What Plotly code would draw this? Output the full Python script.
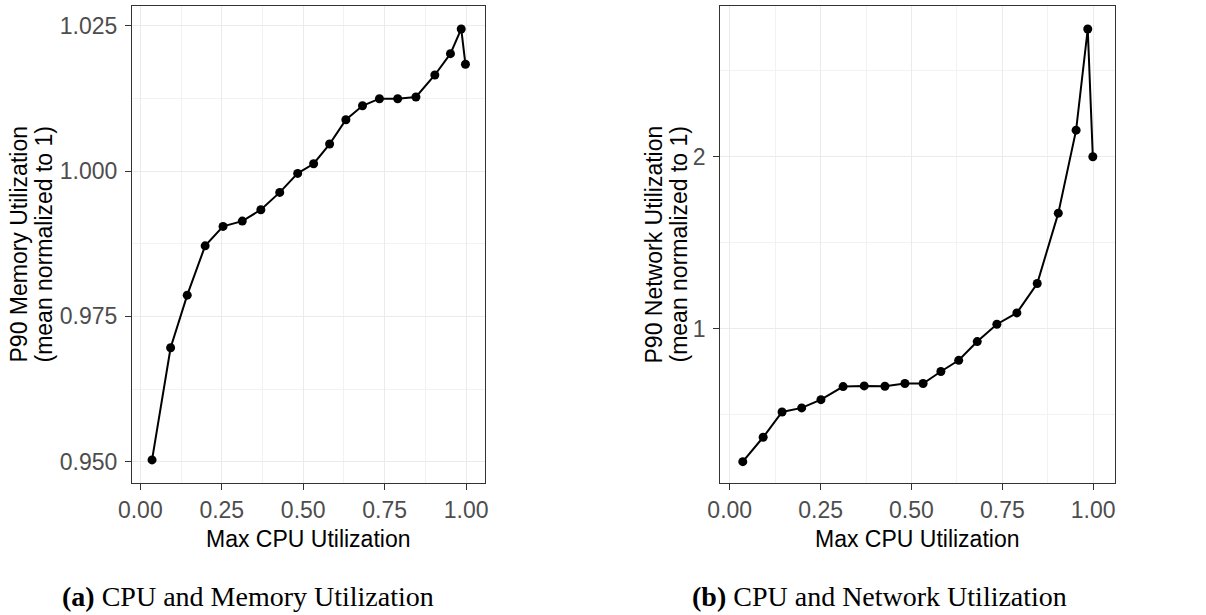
import plotly.graph_objects as go

W, H = 1206, 615

# ---- data ----
cpu_mem = [0.036, 0.093, 0.144, 0.199, 0.254, 0.313, 0.370, 0.428, 0.483, 0.532,
           0.581, 0.631, 0.682, 0.734, 0.790, 0.846, 0.904, 0.952, 0.985, 0.998]
mem_util = [0.9503, 0.9696, 0.97865, 0.98714, 0.99048, 0.99139, 0.99334, 0.99633, 0.9996, 1.00126,
            1.00465, 1.00883, 1.01124, 1.01245, 1.01245, 1.01274, 1.01653, 1.0202, 1.02445, 1.01837]

cpu_net = [0.036, 0.092, 0.144, 0.198, 0.251, 0.312, 0.370, 0.427, 0.482, 0.532,
           0.581, 0.630, 0.681, 0.735, 0.790, 0.846, 0.904, 0.953, 0.985, 0.999]
net_util = [0.225, 0.367, 0.514, 0.538, 0.586, 0.662, 0.666, 0.664, 0.680, 0.680,
            0.750, 0.815, 0.924, 1.025, 1.091, 1.262, 1.672, 2.155, 2.744, 2.000]

x_title = "Max CPU Utilization"
mem_title = ["P90 Memory Utilization", "(mean normalized to 1)"]
net_title = ["P90 Network Utilization", "(mean normalized to 1)"]
cap_a = "<b>(a)</b> CPU and Memory Utilization"
cap_b = "<b>(b)</b> CPU and Network Utilization"

# ---- layout helpers (pixel -> paper) ----
def px(x):
    return x / W

def py(y):
    return 1 - y / H

fig = go.Figure()

line_style = dict(color="black", width=2)
marker_style = dict(color="black", size=9, symbol="circle")

fig.add_trace(go.Scatter(x=cpu_mem, y=mem_util, mode="lines+markers",
                         line=line_style, marker=marker_style,
                         xaxis="x", yaxis="y", showlegend=False))
fig.add_trace(go.Scatter(x=cpu_net, y=net_util, mode="lines+markers",
                         line=line_style, marker=marker_style,
                         xaxis="x2", yaxis="y2", showlegend=False))

tick_font = dict(family="Liberation Sans, Arial, sans-serif", size=23, color="#4D4D4D")
title_font = dict(family="Liberation Sans, Arial, sans-serif", size=23, color="black")
cap_font = dict(family="Liberation Serif, Times New Roman, serif", size=28, color="black")

def axis_common():
    return dict(showline=True, mirror=True, linecolor="#333333", linewidth=1.2,
                ticks="outside", ticklen=6, tickwidth=1.2, tickcolor="#333333",
                tickfont=tick_font, showgrid=True, gridcolor="#EBEBEB", gridwidth=1.2,
                zeroline=False)

ydom = [py(483), py(6)]

fig.update_layout(
    width=W, height=H,
    margin=dict(l=0, r=0, t=0, b=0, autoexpand=False),
    paper_bgcolor="white", plot_bgcolor="white",
    xaxis=dict(domain=[px(132), px(485)], range=[-0.0255, 1.058], anchor="y",
               tick0=0, dtick=0.25, tickformat=".2f",
               minor=dict(dtick=0.125, showgrid=True, gridcolor="#F2F2F2", gridwidth=1),
               **axis_common()),
    yaxis=dict(domain=ydom, range=[0.94633, 1.0284], anchor="x",
               tick0=0.95, dtick=0.025, tickformat=".3f", ticklabelstandoff=3,
               minor=dict(dtick=0.0125, showgrid=True, gridcolor="#F2F2F2", gridwidth=1),
               **axis_common()),
    xaxis2=dict(domain=[px(720.3), px(1115)], range=[-0.0259, 1.060], anchor="y2",
                tick0=0, dtick=0.25, tickformat=".2f",
                minor=dict(dtick=0.125, showgrid=True, gridcolor="#F2F2F2", gridwidth=1),
                **axis_common()),
    yaxis2=dict(domain=ydom, range=[0.1007, 2.878], anchor="x2",
                tick0=0, dtick=1, tickformat="d", ticklabelstandoff=3,
                minor=dict(dtick=0.5, showgrid=True, gridcolor="#F2F2F2", gridwidth=1),
                **axis_common()),
)

ann = []
# x-axis titles
ann.append(dict(x=px(308.5), y=py(538.7), text=x_title, font=title_font))
ann.append(dict(x=px(917.6), y=py(538.7), text=x_title, font=title_font))
# y-axis titles (two lines each)
ann.append(dict(x=px(18), y=py(244.5), text=mem_title[0], font=title_font, textangle=-90))
ann.append(dict(x=px(43), y=py(244.5), text=mem_title[1], font=title_font, textangle=-90))
ann.append(dict(x=px(653), y=py(244.5), text=net_title[0], font=title_font, textangle=-90))
ann.append(dict(x=px(678), y=py(244.5), text=net_title[1], font=title_font, textangle=-90))
# captions
ann.append(dict(x=px(247.5), y=py(596.5), text=cap_a, font=cap_font))
ann.append(dict(x=px(879), y=py(596.5), text=cap_b, font=cap_font))

for a in ann:
    a.update(xref="paper", yref="paper", showarrow=False,
             xanchor="center", yanchor="middle")
fig.update_layout(annotations=ann)

fig.write_html("out.html")
